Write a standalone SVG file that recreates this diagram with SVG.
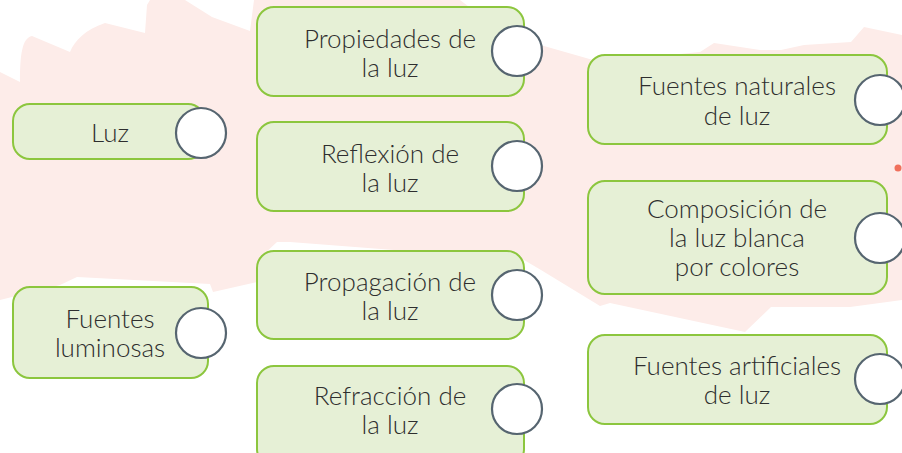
<svg xmlns="http://www.w3.org/2000/svg" width="902" height="453" viewBox="0 0 902 453">
<style>
.box{fill:#e6f0d6;stroke:#8cc63e;stroke-width:2}
.dot{fill:#ffffff;stroke:#566570;stroke-width:2.2}
.t{font-family:Lato,"Liberation Sans",sans-serif;font-weight:300;font-size:26px;fill:#2e2e2e;text-anchor:middle}
</style>
<rect width="902" height="453" fill="#ffffff"/>
<path id="brush" fill="#fdece9" d="M0,72 L20,82 C20,55 22,38 32,36 L70,52 C75,40 85,30 105,23 L145,33 L147,5 L150,0 L185,0 L212,17 L250,31 L254,0 L460,0 L518,44 L544,46 L600,62 L700,52 L714,43 L760,50 L781,50 L804,45 L851,42 L864,27 L902,35 L902,300 L850,307 L771,307 L745,332 L610,303 L600,306 L541,270 L524,260 L290,242 L277,242 L262,256 L257,282 L213,292 L210,284 L77,277 L60,285 L0,300 Z"/>
<circle cx="898" cy="168" r="3.5" fill="#f0705c"/>
<g id="connectors"></g>
<g id="n-luz">
<rect class="box" x="13" y="104" width="192" height="55" rx="17"/>
<circle class="dot" cx="201" cy="133" r="25"/>
<text class="t" x="110" y="142">Luz</text>
</g>
<g id="n-fuentes-luminosas">
<rect class="box" x="13" y="287" width="195" height="91" rx="17"/>
<circle class="dot" cx="201" cy="333" r="25"/>
<text class="t" x="110" y="328">Fuentes</text>
<text class="t" x="110" y="357">luminosas</text>
</g>
<g id="n-propiedades">
<rect class="box" x="257" y="7" width="267" height="89" rx="17"/>
<circle class="dot" cx="517" cy="51" r="25"/>
<text class="t" x="390" y="48">Propiedades de</text>
<text class="t" x="390" y="77">la luz</text>
</g>
<g id="n-reflexion">
<rect class="box" x="257" y="122" width="267" height="89" rx="17"/>
<circle class="dot" cx="517" cy="166" r="25"/>
<text class="t" x="390" y="163">Reflexión de</text>
<text class="t" x="390" y="192">la luz</text>
</g>
<g id="n-propagacion">
<rect class="box" x="257" y="251" width="267" height="88" rx="17"/>
<circle class="dot" cx="517" cy="295" r="25"/>
<text class="t" x="390" y="291">Propagación de</text>
<text class="t" x="390" y="320">la luz</text>
</g>
<g id="n-refraccion">
<rect class="box" x="257" y="366" width="267" height="100" rx="17"/>
<circle class="dot" cx="517" cy="409" r="25"/>
<text class="t" x="390" y="405">Refracción de</text>
<text class="t" x="390" y="434">la luz</text>
</g>
<g id="n-naturales">
<rect class="box" x="588" y="55" width="299" height="89" rx="17"/>
<circle class="dot" cx="880" cy="100" r="25"/>
<text class="t" x="737" y="95">Fuentes naturales</text>
<text class="t" x="737" y="125">de luz</text>
</g>
<g id="n-composicion">
<rect class="box" x="588" y="181" width="299" height="113" rx="17"/>
<circle class="dot" cx="880" cy="238" r="25"/>
<text class="t" x="737" y="218">Composición de</text>
<text class="t" x="737" y="247">la luz blanca</text>
<text class="t" x="737" y="276">por colores</text>
</g>
<g id="n-artificiales">
<rect class="box" x="588" y="335" width="299" height="89" rx="17"/>
<circle class="dot" cx="880" cy="379" r="25"/>
<text class="t" x="737" y="375">Fuentes artificiales</text>
<text class="t" x="737" y="404">de luz</text>
</g>
</svg>
